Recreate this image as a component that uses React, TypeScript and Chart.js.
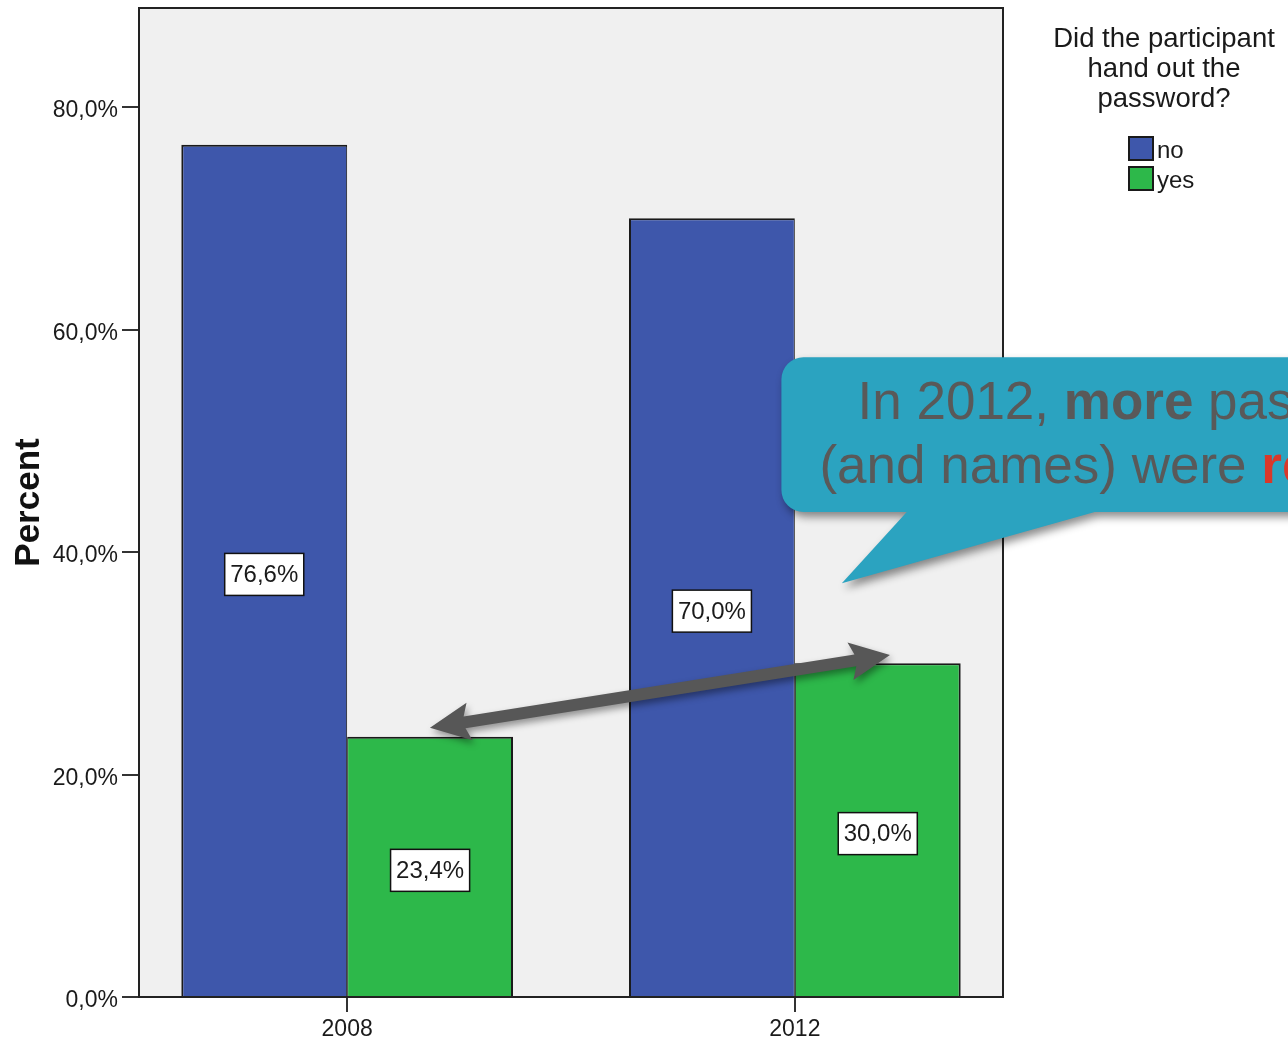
import React, { useEffect, useRef } from 'react';
import { Chart, registerables } from 'chart.js';

Chart.register(...registerables);

// ---- data ----
const YEARS = [2008, 2012];
const SERIES_NAMES = ['no', 'yes'];
const NO_VALUES = [76.6, 70.0];
const YES_VALUES = [23.4, 30.0];
const Y_TICKS = [0, 20, 40, 60, 80];
const Y_MAX = 88.9;
const X_MIN = 2006.14;
const X_MAX = 2013.86;
const Y_TITLE = 'Percent';
const LEGEND_TITLE = ['Did the participant', 'hand out the', 'password?'];
const CALLOUT_LINE1 = [
  { text: 'In 2012, ', bold: false, red: false },
  { text: 'more', bold: true, red: false },
  { text: ' passwords', bold: false, red: false },
];
const CALLOUT_LINE2 = [
  { text: '(and names) were ', bold: false, red: false },
  { text: 'revealed', bold: true, red: true },
];
// annotation anchors in data units (x: year axis, y: percent axis)
const ARROW_FROM = { x: 2008.74, y: 24.2 };
const ARROW_TO = { x: 2012.85, y: 30.75 };
const CALLOUT_BOX = { x: 2011.88, yTop: 57.5, yBottom: 43.6 };
const CALLOUT_TAIL = { base0: 2013.0, base1: 2014.68, tipX: 2012.42, tipY: 37.2 };
const CALLOUT_TEXT = { x1: 2012.56, y1: 51.96, x2: 2012.22, y2: 46.2 };

// ---- styles ----
const FONT = '"Liberation Sans", Arial, sans-serif';
const BLUE = '#3e57ab';
const GREEN = '#2db84a';
const BAR_BORDER = '#1a1a1a';
const PLOT_BG = '#f0f0f0';
const CALLOUT_COLOR = '#2ba3c0';
const CALLOUT_TEXT_COLOR = '#595959';
const CALLOUT_RED = '#d9382a';
const ARROW_COLOR = '#575757';

const fmt = (v: number) => v.toFixed(1).replace('.', ',') + '%';

const decorPlugin = {
  id: 'decor',
  beforeDraw(chart: any) {
    const { ctx, chartArea: a } = chart;
    ctx.save();
    ctx.fillStyle = PLOT_BG;
    ctx.fillRect(a.left, a.top, a.right - a.left, a.bottom - a.top);
    ctx.restore();
  },
  beforeDatasetsDraw(chart: any) {
    const { ctx, chartArea: a } = chart;
    ctx.save();
    ctx.strokeStyle = '#222';
    ctx.lineWidth = 2;
    ctx.strokeRect(a.left, a.top, a.right - a.left, a.bottom - a.top);
    ctx.restore();
  },
  afterDatasetsDraw(chart: any) {
    const { ctx, chartArea: a } = chart;
    const xs = chart.scales.x;
    const ys = chart.scales.y;

    // value labels
    ctx.save();
    ctx.font = `24px ${FONT}`;
    ctx.textAlign = 'center';
    ctx.textBaseline = 'middle';
    chart.data.datasets.forEach((ds: any, di: number) => {
      const meta = chart.getDatasetMeta(di);
      meta.data.forEach((bar: any, i: number) => {
        const label = fmt(ds.data[i].y);
        const tw = ctx.measureText(label).width;
        const w = tw + 11;
        const h = 42;
        const cx = bar.x;
        const cy = (bar.y + bar.base) / 2 + 4;
        ctx.fillStyle = '#ffffff';
        ctx.fillRect(cx - w / 2, cy - h / 2, w, h);
        ctx.strokeStyle = '#111';
        ctx.lineWidth = 1.5;
        ctx.strokeRect(cx - w / 2, cy - h / 2, w, h);
        ctx.fillStyle = '#1a1a1a';
        ctx.fillText(label, cx, cy + 1);
      });
    });
    ctx.restore();

    // double arrow
    {
      const x1 = xs.getPixelForValue(ARROW_FROM.x);
      const y1 = ys.getPixelForValue(ARROW_FROM.y);
      const x2 = xs.getPixelForValue(ARROW_TO.x);
      const y2 = ys.getPixelForValue(ARROW_TO.y);
      const ang = Math.atan2(y2 - y1, x2 - x1);
      const L = Math.hypot(x2 - x1, y2 - y1);
      const hl = 40, hw = 19, sw = 6;
      ctx.save();
      ctx.translate(x1, y1);
      ctx.rotate(ang);
      ctx.shadowColor = 'rgba(0,0,0,0.4)';
      ctx.shadowBlur = 7;
      ctx.shadowOffsetX = 2;
      ctx.shadowOffsetY = 4;
      ctx.fillStyle = ARROW_COLOR;
      ctx.beginPath();
      ctx.moveTo(0, 0);
      ctx.lineTo(hl, -hw);
      ctx.lineTo(hl - 5, -sw);
      ctx.lineTo(L - hl + 5, -sw);
      ctx.lineTo(L - hl, -hw);
      ctx.lineTo(L, 0);
      ctx.lineTo(L - hl, hw);
      ctx.lineTo(L - hl + 5, sw);
      ctx.lineTo(hl - 5, sw);
      ctx.lineTo(hl, hw);
      ctx.closePath();
      ctx.fill();
      ctx.restore();
    }

    // callout
    {
      const Lx = xs.getPixelForValue(CALLOUT_BOX.x);
      const T = ys.getPixelForValue(CALLOUT_BOX.yTop);
      const B = ys.getPixelForValue(CALLOUT_BOX.yBottom);
      const R = chart.width + 200;
      const r = 22;
      const b0 = xs.getPixelForValue(CALLOUT_TAIL.base0);
      const b1 = xs.getPixelForValue(CALLOUT_TAIL.base1);
      const tx = xs.getPixelForValue(CALLOUT_TAIL.tipX);
      const ty = ys.getPixelForValue(CALLOUT_TAIL.tipY);
      ctx.save();
      ctx.shadowColor = 'rgba(0,0,0,0.45)';
      ctx.shadowBlur = 8;
      ctx.shadowOffsetX = 3;
      ctx.shadowOffsetY = 5;
      ctx.fillStyle = CALLOUT_COLOR;
      ctx.beginPath();
      ctx.moveTo(Lx + r, T);
      ctx.lineTo(R, T);
      ctx.lineTo(R, B);
      ctx.lineTo(b1, B);
      ctx.lineTo(tx, ty);
      ctx.lineTo(b0, B);
      ctx.lineTo(Lx + r, B);
      ctx.arcTo(Lx, B, Lx, B - r, r);
      ctx.lineTo(Lx, T + r);
      ctx.arcTo(Lx, T, Lx + r, T, r);
      ctx.closePath();
      ctx.fill();
      ctx.restore();

      const drawLine = (segs: any[], x: number, y: number) => {
        let cx = x;
        segs.forEach((s) => {
          ctx.font = `${s.bold ? 'bold ' : ''}53px ${FONT}`;
          ctx.fillStyle = s.red ? CALLOUT_RED : CALLOUT_TEXT_COLOR;
          ctx.fillText(s.text, cx, y);
          cx += ctx.measureText(s.text).width;
        });
      };
      ctx.save();
      ctx.textAlign = 'left';
      ctx.textBaseline = 'alphabetic';
      drawLine(CALLOUT_LINE1, xs.getPixelForValue(CALLOUT_TEXT.x1), ys.getPixelForValue(CALLOUT_TEXT.y1));
      drawLine(CALLOUT_LINE2, xs.getPixelForValue(CALLOUT_TEXT.x2), ys.getPixelForValue(CALLOUT_TEXT.y2));
      ctx.restore();
    }

    // legend
    {
      const lx = a.right;
      const top = a.top;
      ctx.save();
      ctx.fillStyle = '#1a1a1a';
      ctx.textAlign = 'center';
      ctx.textBaseline = 'alphabetic';
      ctx.font = `27.5px ${FONT}`;
      LEGEND_TITLE.forEach((line, i) => {
        ctx.fillText(line, lx + 161, top + 39 + i * 30);
      });
      const colors = [BLUE, GREEN];
      ctx.font = `24px ${FONT}`;
      ctx.textAlign = 'left';
      SERIES_NAMES.forEach((name, i) => {
        const by = top + 129 + i * 30;
        ctx.fillStyle = colors[i];
        ctx.fillRect(lx + 126, by, 24, 23);
        ctx.strokeStyle = '#1a1a1a';
        ctx.lineWidth = 2;
        ctx.strokeRect(lx + 126, by, 24, 23);
        ctx.fillStyle = '#1a1a1a';
        ctx.fillText(name, lx + 154, by + 21);
      });
      ctx.restore();
    }
  },
};

export default function App() {
  const ref = useRef<HTMLCanvasElement>(null);
  useEffect(() => {
    document.body.style.margin = '0';
    const chart = new Chart(ref.current as HTMLCanvasElement, {
      type: 'bar',
      data: {
        datasets: [
          {
            label: SERIES_NAMES[0],
            data: YEARS.map((yr, i) => ({ x: yr, y: NO_VALUES[i] })),
            backgroundColor: BLUE,
            borderColor: BAR_BORDER,
            borderWidth: { left: 2, top: 2, right: 1, bottom: 0 },
            categoryPercentage: 0.741,
            barPercentage: 1,
          },
          {
            label: SERIES_NAMES[1],
            data: YEARS.map((yr, i) => ({ x: yr, y: YES_VALUES[i] })),
            backgroundColor: GREEN,
            borderColor: BAR_BORDER,
            borderWidth: { left: 1, top: 2, right: 2, bottom: 0 },
            categoryPercentage: 0.741,
            barPercentage: 1,
          },
        ],
      } as any,
      options: {
        animation: false,
        responsive: false,
        layout: { padding: { top: 8, right: 285, left: 0, bottom: 0 } },
        plugins: { legend: { display: false }, tooltip: { enabled: false } },
        scales: {
          x: {
            type: 'linear',
            min: X_MIN,
            max: X_MAX,
            offset: false,
            afterBuildTicks: (s: any) => {
              s.ticks = YEARS.map((v) => ({ value: v }));
            },
            afterFit: (s: any) => {
              s.height = 44;
              s.paddingLeft = 0;
              s.paddingRight = 0;
            },
            ticks: {
              callback: (v: any) => String(v),
              font: { family: FONT, size: 23 },
              color: '#1a1a1a',
              padding: 4,
              maxRotation: 0,
              autoSkip: false,
            },
            grid: { offset: false, drawOnChartArea: false, tickLength: 15, color: '#333', lineWidth: 2 },
            border: { display: false },
          },
          y: {
            min: 0,
            max: Y_MAX,
            afterBuildTicks: (s: any) => {
              s.ticks = Y_TICKS.map((v) => ({ value: v }));
            },
            afterFit: (s: any) => {
              s.width = 139;
              s.paddingTop = 0;
              s.paddingBottom = 0;
            },
            ticks: {
              callback: (v: any) => fmt(Number(v)),
              font: { family: FONT, size: 23 },
              color: '#1a1a1a',
              padding: 4,
              labelOffset: 4,
            },
            grid: { drawOnChartArea: false, tickLength: 17, color: '#333', lineWidth: 2 },
            border: { display: false },
            title: {
              display: true,
              text: Y_TITLE,
              font: { family: FONT, size: 35, weight: 'bold' },
              color: '#111',
              padding: { top: 8, bottom: 0 },
            },
          },
        },
      } as any,
      plugins: [decorPlugin],
    });
    return () => chart.destroy();
  }, []);
  return (
    <div style={{ width: 1288, height: 1041 }}>
      <canvas ref={ref} width={1288} height={1041} style={{ display: 'block' }} />
    </div>
  );
}
